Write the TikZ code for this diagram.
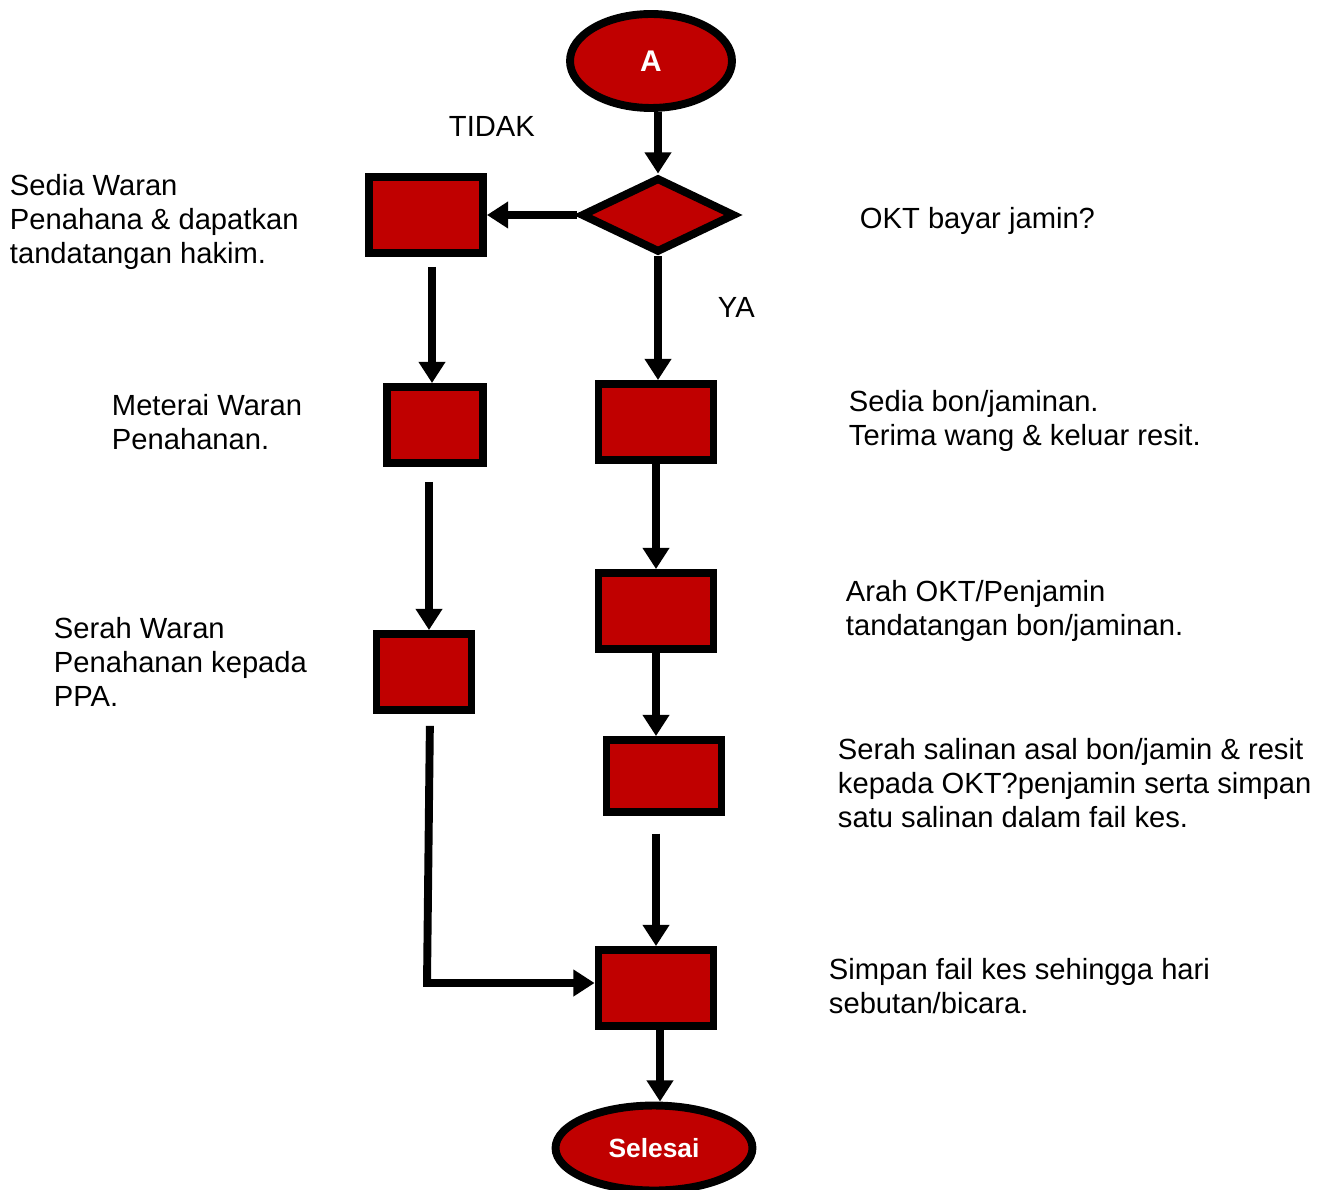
\documentclass[tikz,border=0pt]{standalone}
\usepackage{fontspec}
\setmainfont{Liberation Sans}
\usetikzlibrary{shapes.geometric,arrows.meta}
\definecolor{boxred}{HTML}{C00000}

\begin{document}
\begin{tikzpicture}[x=0.02cm,y=-0.02cm,
	line width=4.5pt,
	box/.style={draw,fill=boxred,inner sep=0pt,minimum width=#1},
	box/.default=2.28cm,
	terminal/.style={draw,fill=boxred,ellipse,inner sep=0pt,text=white,
		font=\bfseries\fontsize{15}{17}\selectfont},
	arrow/.style={-{Triangle[width=14.5pt,length=12pt]}},
	note/.style={anchor=west,align=left,inner sep=0pt,
		font=\fontsize{16.6}{19.3}\selectfont}]
				\useasboundingbox (0,0) rectangle (1327,1189);
				% nodes
				\node[terminal,minimum width=3.24cm,minimum height=1.88cm,font=\bfseries\fontsize{17}{19}\selectfont] (start) at (651,61) {A};
				\node[draw,fill=boxred,diamond,inner sep=0pt,minimum width=3.08cm,minimum height=1.5cm] (okt) at (658,215) {};
				\node[box,minimum height=1.52cm] (lone) at (426,215) {};
				\node[box=1.92cm,minimum height=1.52cm] (ltwo) at (435,425) {};
				\node[box=1.9cm,minimum height=1.52cm] (lthree) at (424,672) {};
				\node[box=2.3cm,minimum height=1.52cm] (rone) at (656,422) {};
				\node[box=2.3cm,minimum height=1.52cm] (rtwo) at (656,611) {};
				\node[box=2.3cm,minimum height=1.44cm] (rthree) at (664,776) {};
				\node[box=2.3cm,minimum height=1.52cm] (rfour) at (656,988) {};
				\node[terminal,minimum width=3.94cm,minimum height=1.7cm] (done) at (654,1148) {Selesai};
				% connectors
				\draw[arrow] (start.south -| okt.north) -- (okt.north);
				\draw[arrow] (okt.west) -- (lone.east);
				\draw[arrow] (okt.south) -- (okt.south |- rone.north);
				\draw[arrow,shorten <=5.7pt] ([xshift=-0.06cm]ltwo.north |- lone.south) -- ([xshift=-0.06cm]ltwo.north);
				\draw[arrow,shorten <=8.5pt] ([xshift=-0.12cm]ltwo.south) -- ([xshift=-0.12cm]ltwo.south |- lthree.north);
				\draw[arrow] (rone.south) -- (rtwo.north);
				\draw[arrow] (rtwo.south) -- (rtwo.south |- rthree.north);
				\draw[arrow,shorten <=10pt] (rfour.north |- rthree.south) -- (rfour.north);
				\draw[arrow,shorten <=6.8pt] ([xshift=0.12cm]lthree.south) -- ([xshift=0.06cm,yshift=0.1cm]lthree.south |- rfour.west) -- ([yshift=0.1cm]rfour.west);
				\draw[arrow] ([xshift=0.08cm]rfour.south) -- ([xshift=0.08cm]rfour.south |- done.north);
				% labels
				\node[note] (tidak) at (445,126) {TIDAK};
				\node[note] (ya) at (714,307) {YA};
				\node[note] (qokt) at (856,221) {OKT bayar jamin?};
				\node[note] (tone) at (6,222) {Sedia Waran\\Penahana \& dapatkan\\tandatangan hakim.};
				\node[note] (ttwo) at (108,422) {Meterai Waran\\Penahanan.};
				\node[note] (tthree) at (50,662) {Serah Waran\\Penahanan kepada\\PPA.};
				\node[note] (tfour) at (845,421) {Sedia bon/jaminan.\\Terima wang \& keluar resit.};
				\node[note] (tfive) at (842,611) {Arah OKT/Penjamin\\tandatangan bon/jaminan.};
				\node[note] (tsix) at (834,783) {Serah salinan asal bon/jamin \& resit\\kepada OKT?penjamin serta simpan\\satu salinan dalam fail kes.};
				\node[note] (tseven) at (825,986) {Simpan fail kes sehingga hari\\sebutan/bicara.};
			\end{tikzpicture}
\end{document}
